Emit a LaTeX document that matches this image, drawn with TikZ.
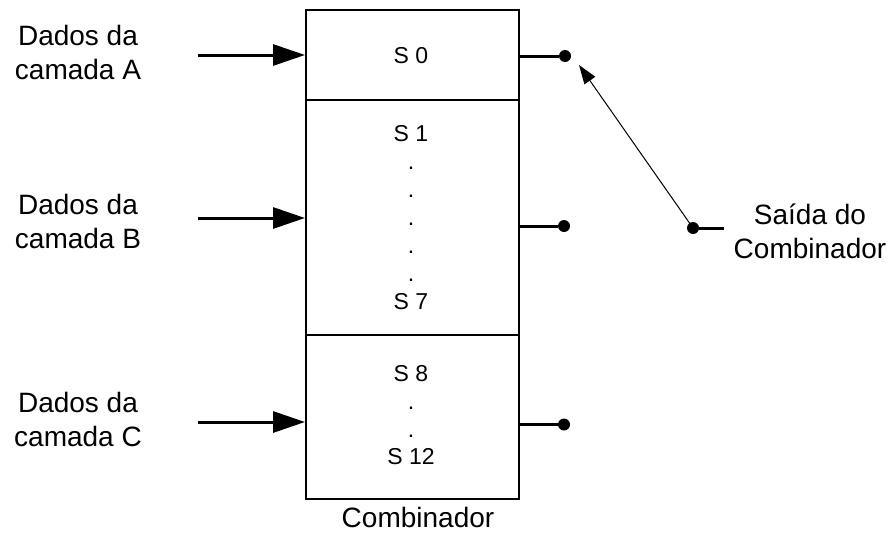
\documentclass[tikz,border=0pt]{standalone}
\usepackage{fontspec}
\setmainfont{Liberation Sans}
\usetikzlibrary{arrows.meta}
\begin{document}
\begin{tikzpicture}[x=1pt,y=-1pt,
  section/.style={draw,line width=2pt,minimum width=213pt,inner sep=0pt,anchor=north west},
  label/.style={font=\fontsize{28}{34}\selectfont,align=center,inner sep=0pt},
  slabel/.style={font=\fontsize{23}{28}\selectfont,align=center,inner sep=0pt},
  feed/.style={line width=3pt,-{Triangle[length=32pt,width=21pt]}},
  tap/.style={line width=3pt},
  contact/.style={circle,fill,inner sep=0pt,minimum size=12pt},
  wiper/.style={line width=1pt,-{Triangle[length=19pt,width=13pt]}}]
\useasboundingbox (0,0) rectangle (895,536);

% combiner sections
\node[section,minimum height=90pt]  (s0) at (305,9)   {};
\node[section,minimum height=235pt] (s1) at (305,99)  {};
\node[section,minimum height=164pt] (s2) at (305,334) {};

% stage names inside the sections
\node[slabel,anchor=base] (t0) at (411,63) {S 0};
\node[slabel,anchor=north] (t1) at (411,125.5) {S 1\\.\\.\\.\\.\\.\\S 7};
\node[slabel,anchor=north,font=\fontsize{23}{27.7}\selectfont] (t2) at (411,365.5) {S 8\\.\\.\\S 12};
\node[label,anchor=base] (comb) at (418,527) {Combinador};

% input layers
\node[label,anchor=north] (la) at (78,25)  {Dados da\\camada A};
\node[label,anchor=north] (lb) at (78,194) {Dados da\\camada B};
\node[label,anchor=north] (lc) at (78,392) {Dados da\\camada C};

\coordinate (inA) at (198,55);
\coordinate (inB) at (198,218);
\coordinate (inC) at (198,422);
\draw[feed] (inA) -- (s0.west |- inA);
\draw[feed] (inB) -- (s1.west |- inB);
\draw[feed] (inC) -- (s2.west |- inC);

% output contacts
\node[contact] (c0) at (565,56)  {};
\node[contact] (c1) at (564,226) {};
\node[contact] (c2) at (564,424.5) {};
\draw[tap] (s0.east |- c0) -- (c0);
\draw[tap] (s1.east |- c1) -- (c1);
\draw[tap] (s2.east |- c2) -- (c2);

% selector switch
\node[contact] (pivot) at (693,228) {};
\coordinate (out) at (724,228);
\coordinate (wtip) at (579,65);
\draw[tap] (pivot) -- (out);
\draw[wiper] (pivot.center) -- (wtip);
\node[label,anchor=north] (lout) at (810,204) {Saída do\\Combinador};
\end{tikzpicture}
\end{document}
